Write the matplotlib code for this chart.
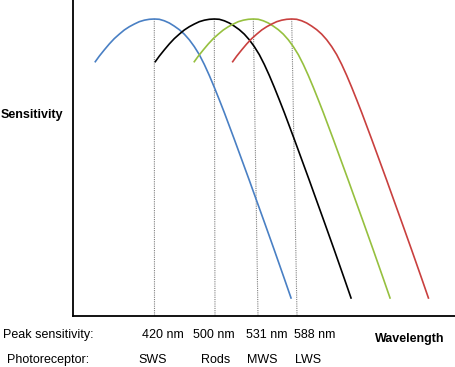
import numpy as np
import matplotlib.pyplot as plt

plt.rcParams['font.family'] = ['Liberation Sans', 'DejaVu Sans']

# one curve shape: offset from the peak and relative sensitivity
shape_dx = np.array([-59.5, -55, -50, -45, -40, -35, -30, -25, -20, -15, -10, -5, 0,
                     5, 10, 15, 20, 25, 30, 35, 40, 45, 50, 55, 60, 65, 70, 75, 80,
                     85, 90, 95, 100, 110, 120, 130, 137])
shape_y = np.array([85.4, 87.5, 89.6, 91.6, 93.4, 94.9, 96.3, 97.4, 98.3, 99.1, 99.6, 99.9, 100,
                    99.9, 99.4, 98.65, 97.6, 96.4, 94.9, 93.0, 90.7, 88.0, 84.7, 81.0, 77.0, 72.8,
                    68.5, 64.0, 59.5, 54.9, 50.3, 45.7, 41.0, 31.65, 22.2, 12.6, 5.8])

# schematic positions along the wavelength axis
peak_pos = [81.8, 141.8, 180.8, 219.2]
drop_pos = [82.0, 142.5, 185.5, 224.5]   # where the dotted lines meet the axis
colors = ['#4a80c4', '#000000', '#96c03f', '#c9403f']

peak_labels = ['420 nm', '500 nm', '531 nm', '588 nm']
peak_label_x = [163, 214, 267, 315]
receptors = ['SWS', 'Rods', 'MWS', 'LWS']
receptor_x = [152.5, 216, 262, 308]

W, H = 455, 367
fig = plt.figure(figsize=(W / 100, H / 100), dpi=100)
ax = fig.add_axes([72.5 / W, (H - 316) / H, 1 - 72.5 / W, 316 / H])

for p, d in zip(peak_pos, drop_pos):
    ax.plot([p, d], [100, 0], color='#808080', lw=0.8, linestyle=(0, (1, 1)))

for p, c in zip(peak_pos, colors):
    ax.plot(shape_dx + p, shape_y, color=c, lw=1.2, solid_capstyle='butt', solid_joinstyle='round')

ax.set_xlim(0, W - 72.5)
ax.set_ylim(0, 316 / 2.97)
ax.set_xticks([])
ax.set_yticks([])
ax.spines['top'].set_visible(False)
ax.spines['right'].set_visible(False)
ax.spines['left'].set_linewidth(1.3)
ax.spines['bottom'].set_linewidth(1.3)


def ftext(x, y, s, **kw):
    fig.text(x / W, 1 - y / H, s, ha='center', va='center', fontsize=9, **kw)


ftext(31.5, 115, 'Sensitivity', fontweight='bold')
ftext(409.5, 339, 'Wavelength', fontweight='bold')
ftext(48.5, 335, 'Peak sensitivity:')
ftext(48, 360, 'Photoreceptor:')
for s, x in zip(peak_labels, peak_label_x):
    ftext(x, 335, s)
for s, x in zip(receptors, receptor_x):
    ftext(x, 360, s)

fig.savefig('out.png', dpi=100)
